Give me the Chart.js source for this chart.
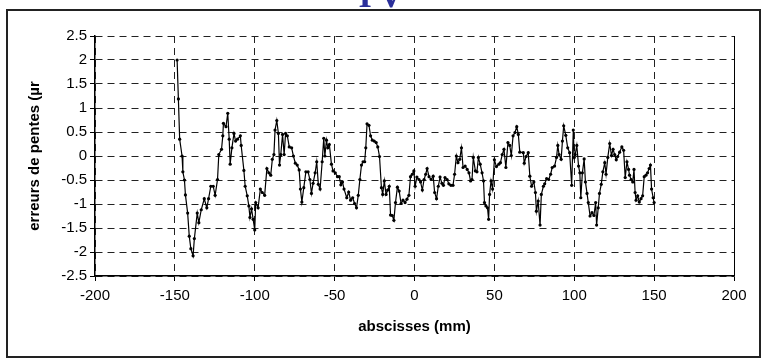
<!DOCTYPE html>
<html>
<head>
<meta charset="utf-8">
<script src="https://cdn.jsdelivr.net/npm/chart.js@4"></script>
<style>
  html, body { margin: 0; padding: 0; background: #fff; }
  #wrap { width: 765px; height: 361px; }
</style>
</head>
<body>
<div id="wrap"><canvas id="pentes" width="765" height="361"></canvas></div>
<script>
// abscisses (mm) et erreurs de pentes
const abscisses = [
  -148.6, -147.8, -147.0, -145.5, -145.0, -144.0, -143.4, -142.0, -141.0, -140.0,
  -138.6, -137.8, -136.0, -135.0, -133.5, -131.6, -130.0, -128.9, -127.5, -126.0,
  -124.8, -123.3, -122.5, -120.8, -120.0, -119.6, -118.0, -116.9, -116.0, -115.4,
  -114.3, -113.0, -112.0, -110.8, -109.0, -108.5, -106.8, -106.0, -104.7, -103.7,
  -103.0, -102.0, -101.0, -100.0, -99.4, -97.9, -96.5, -95.3, -93.8, -92.4,
  -91.2, -90.0, -89.0, -88.0, -87.3, -86.2, -85.2, -84.5, -83.7, -82.6,
  -81.6, -80.7, -79.6, -78.4, -76.9, -75.8, -74.6, -73.4, -72.2, -71.4,
  -70.5, -69.3, -68.0, -66.6, -65.5, -64.5, -63.5, -62.2, -61.2, -60.2,
  -59.1, -57.8, -56.8, -56.1, -55.1, -54.3, -53.3, -52.0, -51.0, -49.6,
  -48.2, -47.1, -46.1, -45.1, -44.1, -42.4, -41.2, -40.0, -38.7, -37.5,
  -36.3, -35.2, -34.2, -33.2, -32.2, -31.2, -30.5, -29.7, -28.5, -27.5,
  -26.4, -25.2, -24.0, -23.0, -21.9, -20.7, -19.9, -18.9, -17.8, -16.8,
  -15.8, -15.0, -13.9, -12.9, -11.9, -10.7, -9.6, -8.4, -7.2, -5.9,
  -4.7, -3.5, -2.5, -1.4, -0.4, 0.4, 1.5, 2.8, 3.8, 4.9,
  6.0, 7.0, 7.9, 9.1, 10.4, 11.7, 12.6, 13.8, 14.9, 16.0,
  17.2, 18.1, 19.1, 20.4, 21.5, 22.8, 24.1, 25.1, 26.2, 27.2,
  28.3, 29.4, 30.4, 31.7, 33.0, 34.1, 35.1, 36.0, 36.8, 38.1,
  39.1, 40.0, 41.1, 42.3, 43.2, 43.8, 44.7, 45.7, 46.4, 47.0,
  47.9, 48.9, 50.0, 51.3, 52.8, 53.8, 54.9, 56.0, 57.2, 58.5,
  59.6, 60.6, 61.7, 62.9, 64.0, 65.0, 65.9, 68.1, 68.7, 69.8,
  71.2, 72.2, 73.3, 74.7, 75.7, 76.3, 77.4, 78.6, 79.4, 80.7,
  81.5, 82.7, 84.0, 85.2, 86.2, 87.7, 88.9, 89.7, 90.5, 91.8,
  92.6, 93.4, 94.7, 95.9, 97.1, 98.4, 99.4, 100.0, 100.6, 101.6,
  102.7, 103.5, 104.1, 105.1, 106.2, 107.0, 108.0, 108.8, 109.9, 111.1,
  112.3, 113.4, 114.0, 115.0, 115.8, 116.9, 117.9, 119.1, 119.9, 121.0,
  122.2, 123.3, 124.3, 125.3, 126.3, 127.2, 128.4, 129.8, 130.9, 131.9,
  133.0, 134.0, 134.6, 135.6, 136.6, 137.4, 138.1, 138.7, 139.7, 140.7,
  141.8, 142.8, 143.8, 144.9, 145.9, 146.9, 147.7, 148.4, 149.4, 150.0
];
const pentes = [
  2.0, 1.19, 0.35, 0.0, -0.33, -0.5, -0.81, -1.19, -1.67, -1.93,
  -2.08, -1.72, -1.19, -1.39, -1.12, -0.89, -1.08, -0.89, -0.63, -0.63,
  -0.82, -0.49, 0.03, 0.14, 0.42, 0.68, 0.61, 0.89, 0.35, -0.17,
  0.17, 0.47, 0.31, 0.35, 0.42, 0.22, -0.3, -0.63, -0.83, -1.04,
  -1.28, -1.1, -1.32, -1.54, -0.97, -1.08, -0.69, -0.76, -0.82, -0.26,
  -0.35, -0.4, -0.07, 0.03, 0.54, 0.74, 0.47, -0.19, 0.03, 0.45,
  0.03, 0.47, 0.42, 0.19, 0.17, 0.0, -0.15, -0.19, -0.29, -0.69,
  -0.96, -0.66, -0.33, -0.33, -0.49, -0.78, -0.57, -0.35, -0.12, -0.59,
  -0.69, -0.12, 0.37, 0.0, 0.33, 0.17, 0.24, -0.17, -0.31, -0.35,
  -0.43, -0.43, -0.6, -0.54, -0.69, -0.87, -0.75, -0.92, -0.87, -0.99,
  -1.08, -0.82, -0.49, -0.19, -0.12, -0.12, 0.17, 0.67, 0.64, 0.42,
  0.33, 0.31, 0.28, 0.19, -0.01, -0.66, -0.8, -0.52, -0.8, -0.71,
  -0.63, -1.23, -1.24, -1.34, -0.97, -0.65, -0.73, -0.99, -0.92, -0.97,
  -0.9, -0.82, -0.43, -0.38, -0.31, -0.63, -0.44, -0.49, -0.54, -0.71,
  -0.49, -0.38, -0.26, -0.43, -0.49, -0.42, -0.76, -0.89, -0.63, -0.44,
  -0.57, -0.61, -0.45, -0.49, -0.58, -0.61, -0.61, -0.38, 0.0, -0.14,
  -0.07, 0.17, -0.24, -0.21, -0.28, -0.35, -0.52, -0.49, -0.03, -0.31,
  -0.33, -0.03, -0.17, -0.35, -0.52, -0.97, -1.04, -1.08, -1.32, -0.8,
  -0.52, -0.69, -0.08, -0.22, -0.17, -0.14, 0.03, 0.14, -0.24, 0.28,
  0.22, 0.01, 0.42, 0.49, 0.61, 0.45, 0.08, 0.07, -0.15, -0.01,
  0.07, -0.42, -0.63, -0.54, -0.76, -1.15, -0.94, -1.44, -0.8, -0.63,
  -0.58, -0.47, -0.49, -0.38, -0.24, -0.21, -0.03, 0.22, 0.03, -0.07,
  0.31, 0.63, 0.43, 0.17, 0.07, -0.61, 0.54, -0.03, 0.03, 0.22,
  -0.21, -0.35, -0.87, -0.35, -0.06, -0.54, -0.78, -0.97, -1.25, -1.18,
  -1.24, -0.97, -1.44, -1.08, -0.78, -0.59, -0.33, -0.14, -0.38, -0.03,
  0.26, 0.01, 0.14, 0.03, -0.08, -0.01, 0.08, 0.19, 0.12, -0.45,
  -0.12, -0.28, -0.4, -0.49, -0.54, -0.28, -0.76, -0.92, -0.83, -0.96,
  -0.89, -0.83, -0.43, -0.4, -0.35, -0.26, -0.19, -0.69, -0.87, -0.97
];
const xMin = -200, xMax = 200, xStep = 50;
const yMin = -2.5, yMax = 2.5, yStep = 0.5;
const titreX = 'abscisses (mm)';
const titreY = 'erreurs de pentes (\u00b5r';

const points = abscisses.map((x, i) => ({ x: x, y: pentes[i] }));

// cadre exterieur, bord droit plein et bout du titre "IV" coupe en haut
const cadre = {
  id: 'cadre',
  afterDraw(chart) {
    const ctx = chart.ctx;
    const a = chart.chartArea;
    ctx.save();
    ctx.strokeStyle = '#000';
    ctx.lineWidth = 1;
    ctx.beginPath();
    ctx.moveTo(a.right + 0.5, a.top);
    ctx.lineTo(a.right + 0.5, a.bottom);
    ctx.stroke();
    ctx.strokeStyle = '#222';
    ctx.lineWidth = 2;
    ctx.strokeRect(7, 10, 753, 347);
    ctx.fillStyle = '#2b2f9a';
    ctx.font = 'bold 34px "Liberation Serif"';
    ctx.textAlign = 'center';
    ctx.textBaseline = 'alphabetic';
    ctx.fillText('I', 365, 7);
    ctx.fillText('V', 391, 7);
    ctx.restore();
  }
};

const context = document.querySelector('#pentes').getContext('2d');
new Chart(context, {
  type: 'scatter',
  data: {
    datasets: [{
      data: points,
      showLine: true,
      borderColor: '#000',
      borderWidth: 1.2,
      backgroundColor: '#000',
      pointRadius: 1.6,
      pointHoverRadius: 1.6,
      pointBorderWidth: 0,
      tension: 0
    }]
  },
  plugins: [cadre],
  options: {
    responsive: false,
    animation: false,
    layout: { padding: { left: 0, top: 36, right: 31, bottom: 0 } },
    plugins: { legend: { display: false }, tooltip: { enabled: false } },
    scales: {
      x: {
        type: 'linear',
        min: xMin, max: xMax,
        afterFit(s) { s.height = 85; },
        ticks: {
          stepSize: xStep,
          color: '#000',
          padding: 6,
          font: { family: '"Liberation Sans", Arial', size: 15 },
          callback: (v) => String(v)
        },
        grid: { color: '#222', lineWidth: 1, tickLength: 5, tickColor: '#000', tickBorderDash: [] },
        border: { display: true, color: '#000', width: 1.5, dash: [7, 5] },
        title: {
          display: true, text: titreX, color: '#000',
          font: { family: '"Liberation Sans", Arial', size: 15, weight: 'bold' },
          padding: { top: 0, bottom: 25 }
        }
      },
      y: {
        type: 'linear',
        min: yMin, max: yMax,
        afterFit(s) { s.width = 95; },
        ticks: {
          stepSize: yStep,
          color: '#000',
          padding: 3,
          font: { family: '"Liberation Sans", Arial', size: 15 },
          callback: (v) => String(Math.round(v * 10) / 10)
        },
        grid: { color: '#222', lineWidth: 1, tickLength: 5, tickColor: '#000', tickBorderDash: [] },
        border: { display: true, color: '#000', width: 1.5, dash: [7, 5] },
        title: {
          display: true, text: titreY, color: '#000',
          font: { family: '"Liberation Sans", Arial', size: 15, weight: 'bold' },
          padding: { top: 26, bottom: 0 }
        }
      }
    }
  }
});
</script>
</body>
</html>
